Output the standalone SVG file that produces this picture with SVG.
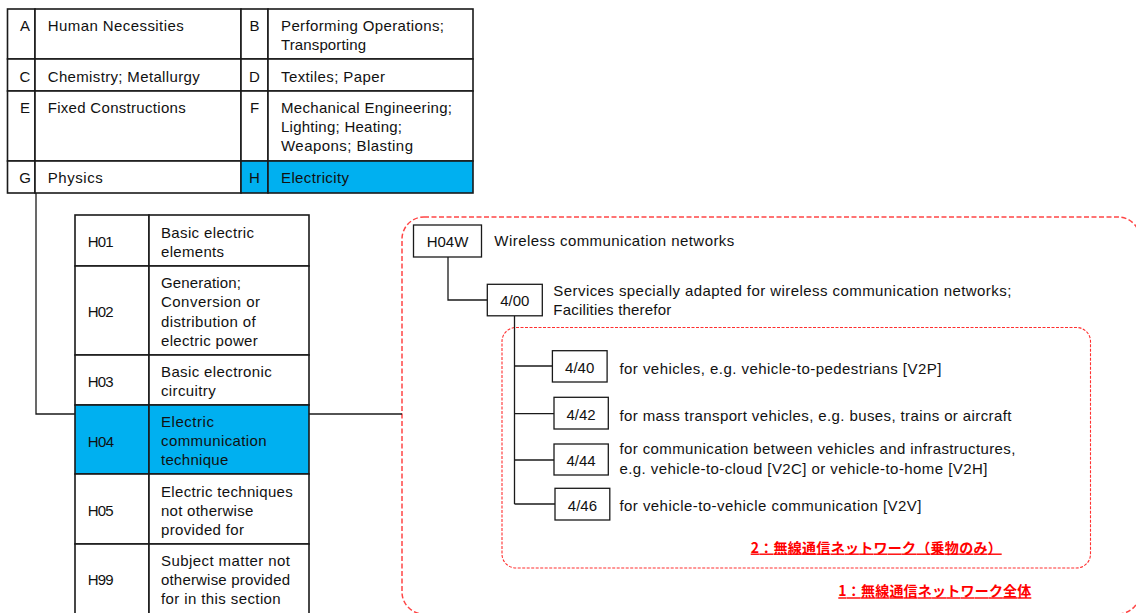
<svg xmlns="http://www.w3.org/2000/svg" width="1136" height="613" viewBox="0 0 1136 613">
  <style>
    .cell { fill: #ffffff; stroke: #1a1a1a; stroke-width: 1.6; }
    .hi { fill: #00B0F0; stroke: #1a1a1a; stroke-width: 1.6; }
    .box { fill: #ffffff; stroke: #1a1a1a; stroke-width: 1.3; }
    .t { font-family: "Liberation Sans", Arial, sans-serif; font-size: 15px; fill: #111111; }
    .c { text-anchor: middle; }
    .wire { fill: none; stroke: #1a1a1a; stroke-width: 1.3; }
    .outer { fill: none; stroke: #FF4545; stroke-width: 1.5; stroke-dasharray: 5 2.5; }
    .inner { fill: none; stroke: #FF3030; stroke-width: 1.1; stroke-dasharray: 3 1.5; }
    .note { font-family: "Noto Sans CJK JP", "Noto Sans CJK SC", sans-serif; font-size: 14px; font-weight: bold; fill: #FF0000; text-decoration: underline; }
  </style>

  <!-- grouping frames -->
  <g id="frames">
    <rect class="outer" x="402" y="217" width="738" height="397" rx="22" ry="22"/>
    <rect class="inner" x="502" y="327.5" width="588.5" height="240.5" rx="14" ry="14"/>
  </g>

  <!-- connectors -->
  <g id="connectors">
    <polyline class="wire" points="36,193 36,414 75,414"/>
    <line class="wire" x1="309" y1="414" x2="402" y2="414"/>
    <polyline class="wire" points="448,257 448,300 487.3,300"/>
    <line class="wire" x1="514.5" y1="315.8" x2="514.5" y2="504"/>
    <line class="wire" x1="514.5" y1="366" x2="552.4" y2="366"/>
    <line class="wire" x1="514.5" y1="413.7" x2="554" y2="413.7"/>
    <line class="wire" x1="514.5" y1="460" x2="554" y2="460"/>
    <line class="wire" x1="514.5" y1="504" x2="555" y2="504"/>
  </g>

  <!-- IPC sections -->
  <g id="sec-A">
    <rect class="cell" x="7.5" y="9" width="27.5" height="50"/>
    <rect class="cell" x="35" y="9" width="206" height="50"/>
    <text class="t c" x="25" y="30.5">A</text>
    <text class="t" x="47.7" y="30.5" textLength="136">Human Necessities</text>
  </g>
  <g id="sec-B">
    <rect class="cell" x="241" y="9" width="27" height="50"/>
    <rect class="cell" x="268" y="9" width="205" height="50"/>
    <text class="t c" x="254.5" y="30.5">B</text>
    <text class="t" x="281" y="30.5" textLength="163">Performing Operations;</text>
    <text class="t" x="281" y="49.5" textLength="85">Transporting</text>
  </g>
  <g id="sec-C">
    <rect class="cell" x="7.5" y="59" width="27.5" height="32"/>
    <rect class="cell" x="35" y="59" width="206" height="32"/>
    <text class="t c" x="25" y="81.7">C</text>
    <text class="t" x="47.7" y="81.7" textLength="152">Chemistry; Metallurgy</text>
  </g>
  <g id="sec-D">
    <rect class="cell" x="241" y="59" width="27" height="32"/>
    <rect class="cell" x="268" y="59" width="205" height="32"/>
    <text class="t c" x="254.5" y="81.7">D</text>
    <text class="t" x="281" y="81.7" textLength="104">Textiles; Paper</text>
  </g>
  <g id="sec-E">
    <rect class="cell" x="7.5" y="91" width="27.5" height="70"/>
    <rect class="cell" x="35" y="91" width="206" height="70"/>
    <text class="t c" x="25" y="113.3">E</text>
    <text class="t" x="47.7" y="113.3" textLength="138">Fixed Constructions</text>
  </g>
  <g id="sec-F">
    <rect class="cell" x="241" y="91" width="27" height="70"/>
    <rect class="cell" x="268" y="91" width="205" height="70"/>
    <text class="t c" x="254.5" y="113.3">F</text>
    <text class="t" x="281" y="113.3" textLength="171">Mechanical Engineering;</text>
    <text class="t" x="281" y="132.3" textLength="121">Lighting; Heating;</text>
    <text class="t" x="281" y="151.3" textLength="132">Weapons; Blasting</text>
  </g>
  <g id="sec-G">
    <rect class="cell" x="7.5" y="161" width="27.5" height="32"/>
    <rect class="cell" x="35" y="161" width="206" height="32"/>
    <text class="t c" x="25" y="182.7">G</text>
    <text class="t" x="47.7" y="182.7" textLength="55">Physics</text>
  </g>
  <g id="sec-H">
    <rect class="hi" x="241" y="161" width="27" height="32"/>
    <rect class="hi" x="268" y="161" width="205" height="32"/>
    <text class="t c" x="254.5" y="182.7">H</text>
    <text class="t" x="281" y="182.7" textLength="68">Electricity</text>
  </g>

  <!-- H classes -->
  <g id="cls-H01">
    <rect class="cell" x="75" y="215" width="74" height="51"/>
    <rect class="cell" x="149" y="215" width="160" height="51"/>
    <text class="t" x="87.7" y="246.7" textLength="26">H01</text>
    <text class="t" x="161" y="238.3" textLength="93">Basic electric</text>
    <text class="t" x="161" y="257" textLength="63">elements</text>
  </g>
  <g id="cls-H02">
    <rect class="cell" x="75" y="266" width="74" height="89"/>
    <rect class="cell" x="149" y="266" width="160" height="89"/>
    <text class="t" x="87.7" y="317.3" textLength="26">H02</text>
    <text class="t" x="161" y="288.3" textLength="80">Generation;</text>
    <text class="t" x="161" y="307.3" textLength="99">Conversion or</text>
    <text class="t" x="161" y="326.7" textLength="94.7">distribution of</text>
    <text class="t" x="161" y="345.7" textLength="96.7">electric power</text>
  </g>
  <g id="cls-H03">
    <rect class="cell" x="75" y="355" width="74" height="50"/>
    <rect class="cell" x="149" y="355" width="160" height="50"/>
    <text class="t" x="87.7" y="386.7" textLength="26">H03</text>
    <text class="t" x="161" y="376.7" textLength="110.7">Basic electronic</text>
    <text class="t" x="161" y="395.7" textLength="54.7">circuitry</text>
  </g>
  <g id="cls-H04">
    <rect class="hi" x="75" y="405" width="74" height="69"/>
    <rect class="hi" x="149" y="405" width="160" height="69"/>
    <text class="t" x="87.7" y="446.7" textLength="26.5">H04</text>
    <text class="t" x="161" y="427.3" textLength="53">Electric</text>
    <text class="t" x="161" y="446.3" textLength="105.7">communication</text>
    <text class="t" x="161" y="465.3" textLength="67.3">technique</text>
  </g>
  <g id="cls-H05">
    <rect class="cell" x="75" y="474" width="74" height="70"/>
    <rect class="cell" x="149" y="474" width="160" height="70"/>
    <text class="t" x="87.7" y="515.7" textLength="26">H05</text>
    <text class="t" x="161" y="496.7" textLength="131.7">Electric techniques</text>
    <text class="t" x="161" y="515.7" textLength="92.3">not otherwise</text>
    <text class="t" x="161" y="535" textLength="83">provided for</text>
  </g>
  <g id="cls-H99">
    <rect class="cell" x="75" y="544" width="74" height="72"/>
    <rect class="cell" x="149" y="544" width="160" height="72"/>
    <text class="t" x="87.7" y="585" textLength="26">H99</text>
    <text class="t" x="161" y="566" textLength="129">Subject matter not</text>
    <text class="t" x="161" y="585" textLength="129">otherwise provided</text>
    <text class="t" x="161" y="604.3" textLength="119.7">for in this section</text>
  </g>

  <!-- H04W subclass and groups -->
  <g id="sub-H04W">
    <rect class="box" x="413.5" y="225" width="68" height="32"/>
    <text class="t c" x="447.5" y="246.7">H04W</text>
    <text class="t" x="494.3" y="245.7" textLength="240">Wireless communication networks</text>
  </g>
  <g id="grp-4-00">
    <rect class="box" x="487.3" y="284.3" width="55" height="31.5"/>
    <text class="t c" x="514.8" y="306">4/00</text>
    <text class="t" x="553.3" y="295.7" textLength="458">Services specially adapted for wireless communication networks;</text>
    <text class="t" x="553.3" y="315" textLength="118">Facilities therefor</text>
  </g>
  <g id="grp-4-40">
    <rect class="box" x="552.4" y="350.7" width="54.7" height="31.3"/>
    <text class="t c" x="579.7" y="373.3">4/40</text>
    <text class="t" x="619.4" y="374" textLength="322">for vehicles, e.g. vehicle-to-pedestrians [V2P]</text>
  </g>
  <g id="grp-4-42">
    <rect class="box" x="554" y="397.3" width="54.3" height="31.7"/>
    <text class="t c" x="581.1" y="419.5">4/42</text>
    <text class="t" x="619.4" y="420.7" textLength="392">for mass transport vehicles, e.g. buses, trains or aircraft</text>
  </g>
  <g id="grp-4-44">
    <rect class="box" x="554" y="444" width="54.3" height="31"/>
    <text class="t c" x="581.1" y="465.5">4/44</text>
    <text class="t" x="619.4" y="454.3" textLength="396">for communication between vehicles and infrastructures,</text>
    <text class="t" x="619.4" y="474" textLength="368">e.g. vehicle-to-cloud [V2C] or vehicle-to-home [V2H]</text>
  </g>
  <g id="grp-4-46">
    <rect class="box" x="555" y="488.3" width="54.8" height="31.7"/>
    <text class="t c" x="582.4" y="510.7">4/46</text>
    <text class="t" x="619.4" y="510.7" textLength="302">for vehicle-to-vehicle communication [V2V]</text>
  </g>

  <!-- frame captions -->
  <g id="captions">
    <text class="note" x="750.7" y="552.5" textLength="251">2：無線通信ネットワーク（乗物のみ）</text>
    <text class="note" x="838.3" y="596.3" textLength="193">1：無線通信ネットワーク全体</text>
  </g>
</svg>
